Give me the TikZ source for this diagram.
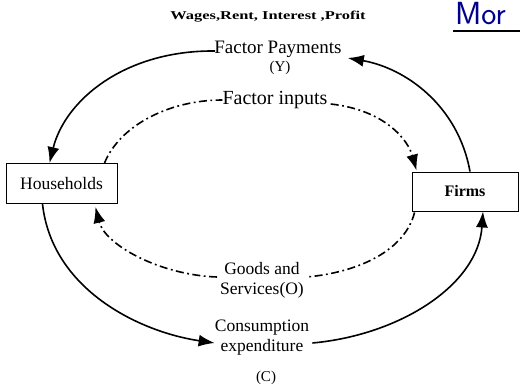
\documentclass[tikz,border=0pt]{standalone}
\usepackage{fontspec}
\setmainfont{Liberation Serif}
\usetikzlibrary{arrows.meta,calc}
\begin{document}
\begin{tikzpicture}[x=1pt,y=-1pt,
  box/.style={draw,line width=0.9pt,minimum height=40pt,inner sep=0pt},
  lbl/.style={inner sep=1pt,font=\fontsize{17}{19}\selectfont},
  flow/.style={line width=1.6pt,-{Latex[length=16pt,width=12pt]}},
  ddash/.style={line width=1.6pt,dash pattern=on 8pt off 3.5pt on 1.8pt off 3.5pt},
  ddflow/.style={ddash,-{Latex[length=16pt,width=12pt]}}]
\useasboundingbox (0,0) rectangle (520,386);
% sector boxes
\node[box,minimum width=111pt,font=\fontsize{17.5}{19}\selectfont] (hh) at (61.5,183.5) {Households};
\node[box,minimum width=106pt,minimum height=39pt,font=\bfseries\fontsize{16}{19}\selectfont] (firms) at (465,191.5) {Firms};
% flow labels
\node[inner sep=0pt,font=\bfseries\fontsize{12}{13}\selectfont] (wages) at (268,17) {\scalebox{1.37}[1]{Wages,Rent, Interest ,Profit}};
\node[lbl,font=\fontsize{19}{21}\selectfont] (fp) at (278,49) {Factor Payments};
\node[lbl,font=\fontsize{15}{16}\selectfont] (y) at (280,68) {(Y)};
\node[lbl,font=\fontsize{20}{22}\selectfont] (fi) at (275,100) {Factor inputs};
\node[lbl,align=center,font=\fontsize{17.5}{20}\selectfont] (gs) at (262,280) {Goods and\\Services(O)};
\node[lbl,align=center,font=\fontsize{17.5}{20}\selectfont] (ce) at (262,338) {Consumption\\expenditure};
\node[lbl,font=\fontsize{15}{17}\selectfont] (c) at (266,378) {(C)};
% handwritten heading
\node[inner sep=0pt,anchor=west,text=blue!55!black,font=\fontsize{32}{34}\sffamily] (mor) at (455,14) {Mor};
\draw[line width=2pt] ($(mor.south west)+(-2,6)$) coordinate (ul) -- ($(mor.south east)+(30,6)$) coordinate (ur);
% money flow (outer, solid)
\draw[flow] ($(firms.north)+(5,0)$) .. controls (458,105) and (405,68) .. ($(fp.east)+(5,9)$);
\draw[flow] ($(fp.west)+(2,2)$) .. controls (125,50) and (65,100) .. ($(hh.north)+(-12,0)$);
\draw[flow] ($(hh.south)+(-19,0)$) .. controls (52,290) and (140,332) .. ($(ce.west)+(1,5)$);
\draw[flow] ($(ce.east)+(2,5)$) .. controls (400,335) and (478,285) .. ($(firms.south)+(18,0)$);
% real flow (inner, dash-dot)
\draw[ddash] ($(hh.north)+(43,0)$) .. controls (120,125) and (170,100) .. ($(fi.west)+(1,0)$);
\draw[ddflow] ($(fi.east)+(2,4)$) .. controls (385,110) and (408,140) .. ($(firms.north west)+(5,-1)$);
\draw[ddash] ($(firms.south west)+(3,1)$) .. controls (405,250) and (360,272) .. ($(gs.east)+(2,-3)$);
\draw[ddflow] ($(gs.west)+(-2,-3)$) .. controls (160,275) and (105,245) .. ($(hh.south east)+(-22,3)$);
\end{tikzpicture}
\end{document}
